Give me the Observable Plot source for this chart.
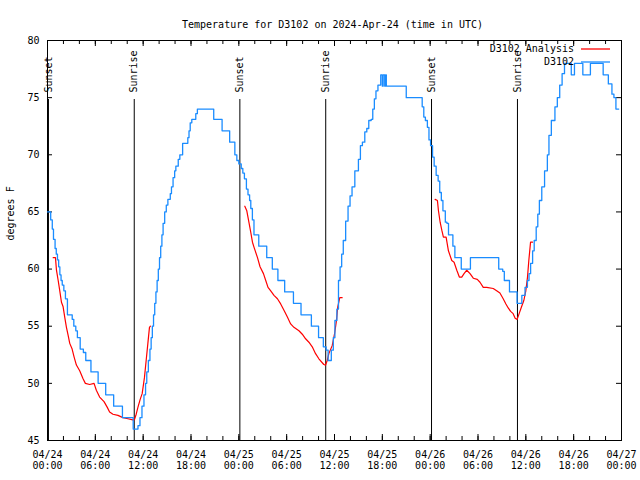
<!DOCTYPE html>
<html><head><meta charset="utf-8">
<script src="https://cdn.jsdelivr.net/npm/d3@7"></script>
<script src="https://cdn.jsdelivr.net/npm/@observablehq/plot@0.6"></script>
<style>body{margin:0;background:#fff} svg{display:block}</style>
</head><body><div id="chart"></div>
<script>
// Hours since 2024-04-24 00:00 UTC
const obsHours = [0,0.4,0.6,0.75,0.95,1.1,1.25,1.4,1.55,1.7,1.85,2.05,2.25,2.5,3.1,3.3,3.55,3.75,4.1,4.5,4.8,5.45,6.35,7.3,8.3,9.4,10.75,11.35,11.6,11.85,12.1,12.3,12.45,12.65,12.85,13.0,13.15,13.3,13.45,13.6,13.75,13.9,14.05,14.2,14.35,14.5,14.7,14.9,15.1,15.4,15.55,15.75,15.95,16.1,16.4,16.6,16.95,17.6,17.75,17.9,18.1,18.6,18.8,20.85,21.9,22.85,23.5,23.75,24.0,24.3,24.5,24.7,24.95,25.15,25.35,25.5,25.7,25.9,26.5,27.5,28.2,28.9,29.75,30.85,31.8,33.1,34.0,34.6,34.95,35.2,35.6,35.85,36.05,36.3,36.5,36.7,36.9,37.1,37.4,37.7,37.95,38.2,38.55,39.0,39.25,39.5,39.8,40.05,40.3,40.6,40.8,41.0,41.2,41.45,41.8,42.0,42.1,42.3,42.4,42.5,45.0,47.0,47.2,47.4,47.65,47.85,48.05,48.3,48.5,48.75,49.0,49.2,49.4,49.6,49.9,50.1,50.3,50.85,51.1,51.9,53.05,56.6,57.1,57.3,57.95,58.9,59.5,59.9,60.2,60.4,60.6,60.85,61.05,61.3,61.5,61.7,62.0,62.35,62.7,62.9,63.2,63.65,63.95,64.25,64.55,64.85,65.7,66.1,67.15,68.1,69.7,70.35,70.8,71.05,71.3,71.65];
const obsTemps = [65,64.3,63.5,62.6,61.8,61.3,60.8,60.2,59.5,59,58.6,58.1,57.4,56,55.6,55,54.6,54,53,52.7,52,51,50,49,48,47,46,46.3,47,48,49,50,51,52,53,54,55,56,57,58,59,60,61,62,63,64,65,65.6,66.1,66.6,67.2,68,68.6,69,69.6,70,71,71.5,72.1,72.8,73.1,73.6,74,73.1,72.1,71.1,70,69.5,69.2,68.8,68.4,67.9,67,66.5,66,65.3,64.3,63,62,61,60,59,58,57,56,55,54,53.2,52.9,52,52.9,54,55.5,56.5,59,60.2,61.3,62.5,64.2,65.5,66.4,67.2,68.6,69.6,70.8,71.1,72,72.3,73,73.1,74,74.9,75.6,76.1,77,76,77,76,77,76,75,74.2,73.3,73,72.4,71.3,70.8,69.8,69,68.2,67.7,66.7,66,65.1,64.1,64,63,62,61,60,61,60,59.8,59,58,57,57.7,58.4,59,59.6,60.5,61.6,62.5,63.7,64.8,66,67.2,68.6,70,71.7,73,74.2,75,76.1,77.1,78,77,78,77,78,77,76.2,75.3,75,74,74];

const anaHours = [0.71,1.0,1.125,1.34,1.54,1.75,1.96,2.16,2.375,2.59,2.79,3.09,3.34,3.625,4.04,4.46,4.75,5.29,5.84,6.125,6.54,7.09,7.5,7.79,8.21,8.84,9.46,10.09,10.7,10.9,11.125,11.34,11.625,11.875,12.16,12.375,12.59,12.79,12.91,
  24.75,25.0,25.29,25.5,25.71,25.91,26.34,26.66,27.09,27.375,27.66,28.0,28.41,28.84,29.25,29.66,30.09,30.5,30.91,31.54,31.96,32.375,32.79,33.21,33.625,34.04,34.66,34.875,35.09,35.29,35.71,36.0,36.25,36.41,36.66,36.96,
  48.625,48.91,49.04,49.25,49.46,49.66,50.0,50.29,50.71,51.0,51.34,51.66,51.96,52.25,52.59,53.0,53.41,53.91,54.25,54.66,55.09,55.91,56.34,56.75,57.16,57.5,57.79,58.09,58.41,58.66,58.91,59.16,59.46,59.75,60.0,60.21,60.375,60.59,60.84];
const anaTemps = [61,61,59.9,59,58.1,57.1,56.7,55.8,54.9,54.2,53.5,53,52.3,51.6,51.1,50.4,50,49.9,50,49.4,48.8,48.4,47.9,47.5,47.3,47.2,47,46.9,46.8,46.8,47.3,47.9,48.6,49.1,50.5,52,53.5,54.9,55,
  65.5,65.1,64,63.2,62.35,61.9,61,60.2,59.6,59,58.4,58.1,57.7,57.4,56.95,56.4,55.8,55.2,54.9,54.6,54.3,53.9,53.6,53.2,52.6,52.15,51.65,51.6,52,52.6,53.3,54.3,55.5,56.7,57.5,57.5,
  66.1,66,65.1,64.1,63.4,62.8,62.8,61.6,60.75,60.6,59.9,59.3,59.3,59.6,59.9,59.6,59.2,59.1,58.85,58.4,58.4,58.3,58.1,57.9,57.4,56.95,56.6,56.3,56.1,55.7,55.6,56.1,56.7,57.25,58.1,59.3,60.75,62.35,62.35];
const anaNight = anaHours.map(h => h < 20 ? 1 : h < 45 ? 2 : 3);

const sunHours = [0.12, 10.88, 24.13, 34.9, 48.17, 58.95];
const sunLabels = ["Sunset", "Sunrise", "Sunset", "Sunrise", "Sunset", "Sunrise"];

const yTicks = [45, 50, 55, 60, 65, 70, 75, 80];
const xMajorHours = d3.range(0, 73, 6);
const xMinorHours = d3.range(0, 73, 2);

const titleText = "Temperature for D3102 on 2024-Apr-24 (time in UTC)";
const yLabel = "degrees F";
const legendLabels = ["D3102 Analysis", "D3102"];
const colors = ["#ff0000", "#1a8cff"];

const start = Date.UTC(2024, 3, 24);
const toDate = h => new Date(start + h * 3600e3);
const obs = obsHours.map((h, i) => ({t: toDate(h), v: obsTemps[i]}));
const ana = anaHours.map((h, i) => ({t: toDate(h), v: anaTemps[i], s: anaNight[i]}));
const sun = sunHours.map((h, i) => ({t: toDate(h), label: sunLabels[i]}));

const W = 640, H = 480, mL = 47, mR = 19, mT = 40, mB = 40;
const iW = W - mL - mR, iH = H - mT - mB;
const font = "DejaVu Sans Mono";

const chart = Plot.plot({
  width: W, height: H, marginLeft: mL, marginRight: mR, marginTop: mT, marginBottom: mB,
  style: {fontFamily: font, fontSize: "10px", background: "white", color: "black"},
  x: {type: "utc", domain: [toDate(0), toDate(72)]},
  y: {domain: [45, 80]},
  marks: [
    Plot.ruleX(sun, {x: "t", insetTop: 59, stroke: "black", strokeWidth: 1}),
    Plot.text(sun, {x: "t", text: "label", frameAnchor: "top", dy: 52, rotate: -90, textAnchor: "start", lineAnchor: "middle", fill: "black"}),
    Plot.frame({stroke: "black"}),
    Plot.tickY(yTicks, {y: d => d, insetRight: iW - 5, stroke: "black"}),
    Plot.tickY(yTicks, {y: d => d, insetLeft: iW - 5, stroke: "black"}),
    Plot.tickX(xMinorHours.map(toDate), {x: d => d, insetTop: iH - 4, stroke: "black"}),
    Plot.tickX(xMinorHours.map(toDate), {x: d => d, insetBottom: iH - 4, stroke: "black"}),
    Plot.tickX(xMajorHours.map(toDate), {x: d => d, insetTop: iH - 6, stroke: "black"}),
    Plot.tickX(xMajorHours.map(toDate), {x: d => d, insetBottom: iH - 6, stroke: "black"}),
    Plot.axisY({ticks: yTicks, tickSize: 0, tickPadding: 8, label: null}),
    Plot.axisX({ticks: xMajorHours.map(toDate), tickSize: 0, tickPadding: 9, label: null,
      tickFormat: d3.utcFormat("%m/%d\n%H:%M"), lineHeight: 1.15}),
    Plot.line(ana, {x: "t", y: "v", z: "s", stroke: colors[0], strokeWidth: 1.2}),
    Plot.line(obs, {x: "t", y: "v", stroke: colors[1], strokeWidth: 1.3, curve: "step-after"}),
    Plot.text([titleText], {frameAnchor: "top", dy: -20, dx: -2, fill: "black"}),
    Plot.text([yLabel], {frameAnchor: "left", dx: -37, rotate: -90, fill: "black"})
  ]
});
document.getElementById("chart").appendChild(chart);

// Legend (top-right inside the frame)
const svg = d3.select(chart);
const lg = svg.append("g").attr("font-family", font).attr("font-size", 10);
legendLabels.forEach((lab, i) => {
  const y = mT + 9 + i * 13;
  lg.append("text").attr("x", W - mR - 47).attr("y", y).attr("dy", "0.32em")
    .attr("text-anchor", "end").attr("fill", "black").text(lab);
  lg.append("line").attr("x1", W - mR - 40).attr("x2", W - mR - 11)
    .attr("y1", y).attr("y2", y).attr("stroke", colors[i]).attr("stroke-width", 1.3);
});
</script>
</body></html>
